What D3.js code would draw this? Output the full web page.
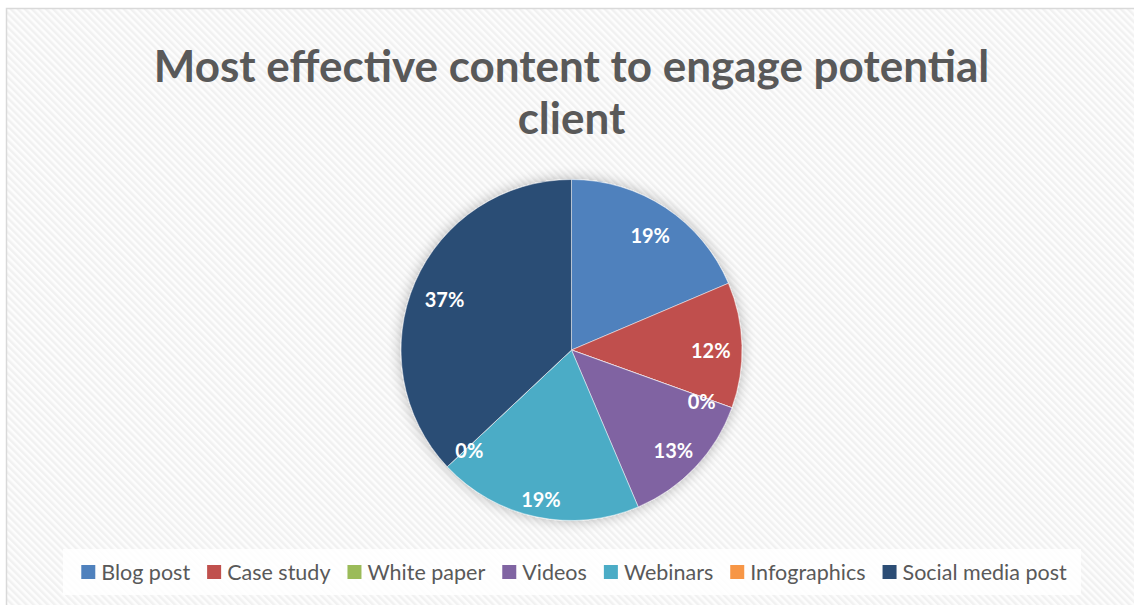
<!DOCTYPE html>
<html>
<head>
<meta charset="utf-8">
<script src="https://cdn.jsdelivr.net/npm/d3@7"></script>
<style>
  html, body { margin: 0; padding: 0; background: #ffffff; }
  svg { display: block; }
</style>
</head>
<body>
<svg id="chart" width="1134" height="605"></svg>
<script>
const titleLines = ["Most effective content to engage potential", "client"];
const categories = ["Blog post", "Case study", "White paper", "Videos", "Webinars", "Infographics", "Social media post"];
const values = [18.6, 11.9, 0, 13.1, 19.4, 0, 37.0];
const colors = ["#4F81BD", "#C0504D", "#9BBB59", "#8064A2", "#4BACC6", "#F79646", "#2C4D75"];

const W = 1134, H = 605;
const svg = d3.select("#chart");
const defs = svg.append("defs");

// hatched background
const pat = defs.append("pattern")
  .attr("id", "hatch").attr("patternUnits", "userSpaceOnUse")
  .attr("width", 5).attr("height", 5)
  .attr("patternTransform", "rotate(-45)");
pat.append("rect").attr("width", 5).attr("height", 5).attr("fill", "#fdfdfd");
pat.append("rect").attr("width", 2.5).attr("height", 5).attr("fill", "#f1f1f1");

const shadow = defs.append("filter").attr("id", "shadow")
  .attr("x", "-20%").attr("y", "-20%").attr("width", "140%").attr("height", "140%");
shadow.append("feGaussianBlur").attr("in", "SourceAlpha").attr("stdDeviation", 7).attr("result", "b");
shadow.append("feComponentTransfer").attr("in", "b").attr("result", "b2")
  .append("feFuncA").attr("type", "linear").attr("slope", 0.28);
const merge = shadow.append("feMerge");
merge.append("feMergeNode").attr("in", "b2");
merge.append("feMergeNode").attr("in", "SourceGraphic");

// chart area
svg.append("rect").attr("x", 6.5).attr("y", 8.5).attr("width", 1140).attr("height", 610)
  .attr("fill", "url(#hatch)").attr("stroke", "#d9d9d9").attr("stroke-width", 1.5);

// title
const cx = 571.5;
const title = svg.append("text")
  .attr("text-anchor", "middle")
  .attr("font-family", "Lato, 'Open Sans', sans-serif")
  .attr("font-weight", "bold")
  .attr("font-size", 44)
  .attr("fill", "#595959");
titleLines.forEach((t, i) => {
  title.append("tspan").attr("x", cx).attr("y", 82 + i * 51.5).text(t);
});

// pie
const R = 170.5, cy = 350;
const total = d3.sum(values);
const pie = d3.pie().sort(null).value(d => d)(values);
const arc = d3.arc().innerRadius(0).outerRadius(R);
const g = svg.append("g").attr("transform", `translate(${cx},${cy})`);
const slices = g.append("g").attr("filter", "url(#shadow)");
slices.selectAll("path").data(pie).join("path")
  .attr("d", arc)
  .attr("fill", (d, i) => colors[i])
  .attr("stroke", "#ffffff").attr("stroke-opacity", 0.6).attr("stroke-width", 0.8);

const fmt = d3.format(".0%");
const hw = 20, hh = 7, margin = 11;
g.selectAll("text.lbl").data(pie).join("text")
  .attr("class", "lbl")
  .attr("font-family", "Lato, 'Open Sans', sans-serif")
  .attr("font-weight", "bold")
  .attr("font-size", 20)
  .attr("fill", "#ffffff")
  .attr("text-anchor", "middle")
  .attr("dominant-baseline", "central")
  .attr("transform", d => {
    const a = (d.startAngle + d.endAngle) / 2;
    const s = Math.sin(a), c = -Math.cos(a);
    const dist = R - margin - (Math.abs(s) * hw + Math.abs(c) * hh);
    return `translate(${s * dist},${c * dist + 4})`;
  })
  .text(d => fmt(d.data / total));

// legend
const legend = svg.append("g");
const boxX = 63, boxY = 549, boxW = 1018, boxH = 46;
legend.append("rect").attr("x", boxX).attr("y", boxY).attr("width", boxW).attr("height", boxH)
  .attr("fill", "#ffffff").attr("fill-opacity", 0.85);
const items = legend.selectAll("g.item").data(categories).join("g").attr("class", "item");
items.append("rect").attr("width", 14).attr("height", 14).attr("y", 565)
  .attr("fill", (d, i) => colors[i]);
items.append("text")
  .attr("font-family", "Lato, 'Open Sans', sans-serif")
  .attr("font-size", 21.5)
  .attr("fill", "#595959")
  .attr("y", 580)
  .text(d => d);
const widths = [];
items.select("text").each(function() { widths.push(this.getComputedTextLength()); });
const gapSq = 6, gapItem = 17;
const totalW = d3.sum(widths) + categories.length * (14 + gapSq) + (categories.length - 1) * gapItem;
let x = 574 - totalW / 2;
items.each(function(d, i) {
  const it = d3.select(this);
  it.select("rect").attr("x", x);
  it.select("text").attr("x", x + 14 + gapSq);
  x += 14 + gapSq + widths[i] + gapItem;
});
</script>
</body>
</html>
